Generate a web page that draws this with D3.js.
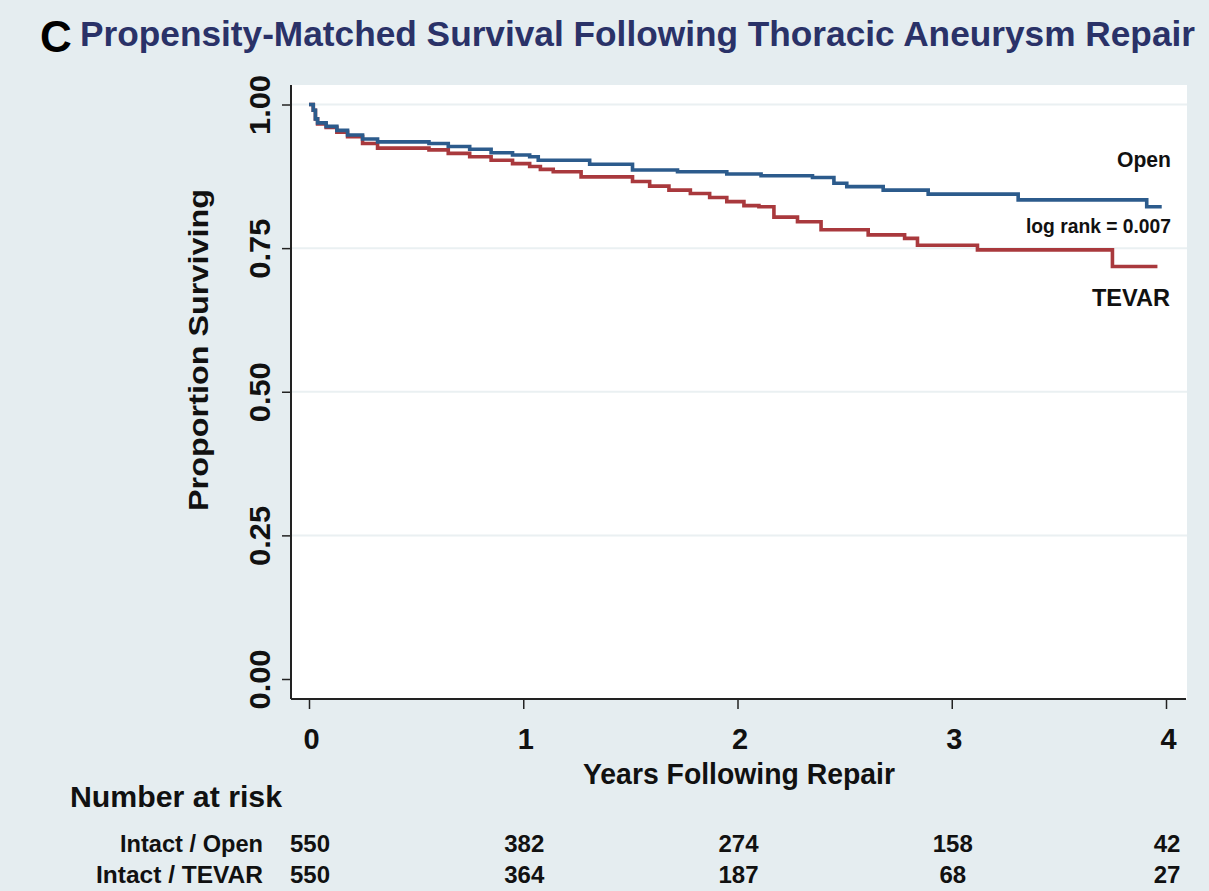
<!DOCTYPE html>
<html>
<head>
<meta charset="utf-8">
<script src="https://cdn.jsdelivr.net/npm/d3@7"></script>
<style>
  html, body { margin: 0; padding: 0; background: #e5edf0; }
  svg { display: block; }
  text { font-family: "Liberation Sans", Arial, sans-serif; font-weight: bold; }
</style>
</head>
<body>
<svg id="chart" width="1209" height="891"></svg>
<script>
// Kaplan–Meier survival estimates (years, proportion surviving)
const openTimes = [0, 0.02, 0.03, 0.04, 0.08, 0.13, 0.18, 0.25, 0.32, 0.56, 0.65, 0.75, 0.85, 0.95, 1.03, 1.07, 1.31, 1.51, 1.72, 1.95, 2.11, 2.35, 2.45, 2.51, 2.68, 2.89, 3.31, 3.91, 3.98];
const openSurv  = [1.000, 0.990, 0.975, 0.968, 0.962, 0.955, 0.947, 0.940, 0.935, 0.932, 0.927, 0.922, 0.916, 0.912, 0.909, 0.903, 0.896, 0.886, 0.883, 0.879, 0.876, 0.873, 0.863, 0.857, 0.851, 0.844, 0.834, 0.822, 0.822];

const tevarTimes = [0, 0.02, 0.03, 0.04, 0.08, 0.13, 0.18, 0.25, 0.32, 0.56, 0.65, 0.75, 0.85, 0.95, 1.03, 1.08, 1.14, 1.27, 1.51, 1.59, 1.68, 1.78, 1.87, 1.95, 2.03, 2.10, 2.17, 2.28, 2.39, 2.61, 2.78, 2.84, 3.12, 3.75, 3.96];
const tevarSurv  = [1.000, 0.990, 0.975, 0.966, 0.960, 0.952, 0.944, 0.932, 0.924, 0.921, 0.915, 0.909, 0.903, 0.897, 0.892, 0.887, 0.883, 0.874, 0.866, 0.858, 0.851, 0.845, 0.838, 0.831, 0.824, 0.822, 0.804, 0.796, 0.782, 0.773, 0.767, 0.755, 0.747, 0.718, 0.718];

// Number-at-risk table
const riskYears = [0, 1, 2, 3, 4];
const riskOpen  = [550, 382, 274, 158, 42];
const riskTevar = [550, 364, 187, 68, 27];

const yTicks = [0, 0.25, 0.5, 0.75, 1];
const xTicks = [0, 1, 2, 3, 4];

const svg = d3.select("#chart");

const frame = { left: 291, right: 1187, top: 85, bottom: 699 };
const x = d3.scaleLinear().domain([0, 4]).range([309, 1166]);
const y = d3.scaleLinear().domain([0, 1]).range([679, 104.5]);

// page background
svg.append("rect").attr("width", 1209).attr("height", 891).attr("fill", "#e5edf0");

// plot region
svg.append("rect")
  .attr("x", frame.left).attr("y", frame.top)
  .attr("width", frame.right - frame.left).attr("height", frame.bottom - frame.top)
  .attr("fill", "#ffffff");

// horizontal grid
svg.append("g").selectAll("line")
  .data(yTicks.filter(d => d > 0))
  .join("line")
  .attr("x1", frame.left + 1).attr("x2", frame.right)
  .attr("y1", d => y(d)).attr("y2", d => y(d))
  .attr("stroke", "#eaf0f2").attr("stroke-width", 2);

// y axis
const yAxis = svg.append("g")
  .attr("transform", `translate(${frame.left},0)`)
  .call(d3.axisLeft(y).tickValues(yTicks).tickSize(9).tickFormat(d3.format(".2f")));
yAxis.select(".domain").remove();
yAxis.selectAll(".tick line").attr("stroke", "#222").attr("stroke-width", 1.5);
yAxis.selectAll(".tick text")
  .attr("transform", "rotate(-90)")
  .attr("x", 0).attr("y", -21).attr("dy", 0)
  .attr("text-anchor", "middle")
  .attr("fill", "#111")
  .attr("textLength", 60).attr("lengthAdjust", "spacingAndGlyphs")
  .style("font-size", "30px");

// x axis
const xAxis = svg.append("g")
  .attr("transform", `translate(0,${frame.bottom})`)
  .call(d3.axisBottom(x).tickValues(xTicks).tickSize(10).tickFormat(d3.format("d")));
xAxis.select(".domain").remove();
xAxis.selectAll(".tick line").attr("stroke", "#222").attr("stroke-width", 1.5);
xAxis.selectAll(".tick text")
  .attr("x", 2).attr("y", 50).attr("dy", 0)
  .attr("fill", "#111")
  .style("font-size", "29px");

// axis lines
svg.append("line").attr("x1", frame.left).attr("x2", frame.left)
  .attr("y1", frame.top).attr("y2", frame.bottom)
  .attr("stroke", "#222").attr("stroke-width", 2);
svg.append("line").attr("x1", frame.left).attr("x2", frame.right - 1)
  .attr("y1", frame.bottom).attr("y2", frame.bottom)
  .attr("stroke", "#222").attr("stroke-width", 2);

// survival curves
const step = d3.line()
  .x(d => x(d[0]))
  .y(d => y(d[1]))
  .curve(d3.curveStepAfter);

const curves = [
  { times: openTimes, surv: openSurv, color: "#2c5b8c" },
  { times: tevarTimes, surv: tevarSurv, color: "#a9393d" }
];
// TEVAR drawn first so the Open curve sits on top where they overlap
curves.slice().reverse().forEach(c => {
  svg.append("path")
    .datum(c.times.map((t, i) => [t, c.surv[i]]))
    .attr("d", step)
    .attr("fill", "none")
    .attr("stroke", c.color)
    .attr("stroke-width", 3.6)
    .attr("stroke-linejoin", "miter");
});

// curve labels
svg.append("text").attr("x", 1171).attr("y", 167).attr("text-anchor", "end")
  .style("font-size", "22px").attr("fill", "#111")
  .attr("textLength", 54).attr("lengthAdjust", "spacingAndGlyphs")
  .text("Open");
svg.append("text").attr("x", 1171).attr("y", 233).attr("text-anchor", "end")
  .style("font-size", "20px").attr("fill", "#111")
  .attr("textLength", 145).attr("lengthAdjust", "spacingAndGlyphs")
  .text("log rank = 0.007");
svg.append("text").attr("x", 1170).attr("y", 306).attr("text-anchor", "end")
  .style("font-size", "23px").attr("fill", "#111")
  .attr("textLength", 78).attr("lengthAdjust", "spacingAndGlyphs")
  .text("TEVAR");

// panel letter and title
svg.append("text").attr("x", 40).attr("y", 52)
  .style("font-size", "44px").attr("fill", "#000").text("C");
svg.append("text").attr("x", 80).attr("y", 46)
  .style("font-size", "35px").attr("fill", "#2a3268")
  .attr("textLength", 1115).attr("lengthAdjust", "spacingAndGlyphs")
  .text("Propensity-Matched Survival Following Thoracic Aneurysm Repair");

// axis titles
svg.append("text")
  .attr("transform", "translate(208,350) rotate(-90)")
  .attr("text-anchor", "middle")
  .style("font-size", "27px").attr("fill", "#111")
  .attr("textLength", 322).attr("lengthAdjust", "spacingAndGlyphs")
  .text("Proportion Surviving");
svg.append("text")
  .attr("x", 739).attr("y", 784).attr("text-anchor", "middle")
  .style("font-size", "30px").attr("fill", "#111")
  .attr("textLength", 312).attr("lengthAdjust", "spacingAndGlyphs")
  .text("Years Following Repair");

// number at risk table
svg.append("text").attr("x", 70).attr("y", 807)
  .style("font-size", "29px").attr("fill", "#111")
  .attr("textLength", 212).attr("lengthAdjust", "spacingAndGlyphs")
  .text("Number at risk");

const rows = [
  { label: "Intact / Open", values: riskOpen, base: 852, len: 143 },
  { label: "Intact / TEVAR", values: riskTevar, base: 883, len: 167 }
];
rows.forEach(r => {
  svg.append("text").attr("x", 263).attr("y", r.base).attr("text-anchor", "end")
    .style("font-size", "24px").attr("fill", "#111")
    .attr("textLength", r.len).attr("lengthAdjust", "spacingAndGlyphs")
    .text(r.label);
  svg.append("g").selectAll("text")
    .data(riskYears.map((t, i) => [t, r.values[i]]))
    .join("text")
    .attr("x", d => x(d[0]) + 1).attr("y", r.base)
    .attr("text-anchor", "middle")
    .style("font-size", "24px").attr("fill", "#111")
    .text(d => d[1]);
});
</script>
</body>
</html>
